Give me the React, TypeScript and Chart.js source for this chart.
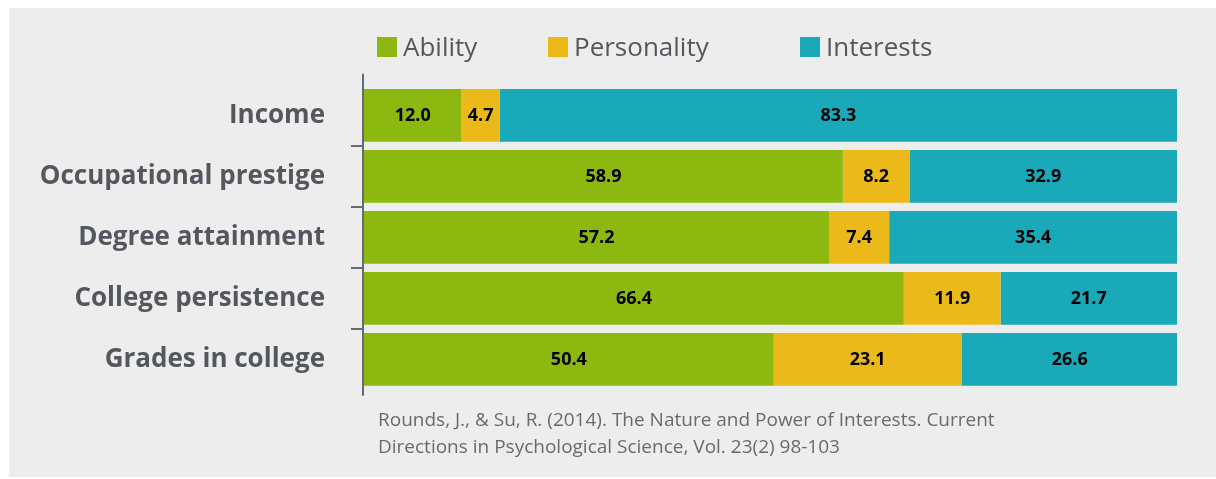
import React, { useEffect, useRef } from "react";
import { Chart, registerables } from "chart.js";

Chart.register(...registerables);

const categories = ["Income", "Occupational prestige", "Degree attainment", "College persistence", "Grades in college"];
const seriesNames = ["Ability", "Personality", "Interests"];
const ability = [12.0, 58.9, 57.2, 66.4, 50.4];
const personality = [4.7, 8.2, 7.4, 11.9, 23.1];
const interests = [83.3, 32.9, 35.4, 21.7, 26.6];
const colors = ["#8db80f", "#ebb91a", "#1aa9b9"];
const sourceLines = [
  "Rounds, J., & Su, R. (2014). The Nature and Power of Interests. Current",
  "Directions in Psychological Science, Vol. 23(2) 98-103",
];

const FONT = "'Open Sans', 'Noto Sans', sans-serif";
const LABEL_COLOR = "#54585e";
const AXIS_COLOR = "#676b71";

const PANEL_W = 1207;
const PANEL_H = 469;

const legendLeft = [368, 539, 791];

export default function App() {
  const canvasRef = useRef<HTMLCanvasElement | null>(null);

  useEffect(() => {
    const canvas = canvasRef.current;
    if (!canvas) return;

    const axisLinePlugin = {
      id: "axisLine",
      afterDraw(chart: any) {
        const { ctx, chartArea } = chart;
        ctx.save();
        ctx.strokeStyle = AXIS_COLOR;
        ctx.lineWidth = 2;
        ctx.beginPath();
        ctx.moveTo(chartArea.left - 1, chartArea.top - 11);
        ctx.lineTo(chartArea.left - 1, chartArea.bottom + 6);
        ctx.stroke();
        ctx.restore();
      },
    };

    const valueLabelPlugin = {
      id: "valueLabels",
      afterDatasetsDraw(chart: any) {
        const { ctx } = chart;
        ctx.save();
        ctx.font = `bold 18px ${FONT}`;
        ctx.fillStyle = "#000";
        ctx.textAlign = "center";
        ctx.textBaseline = "middle";
        chart.data.datasets.forEach((ds: any, i: number) => {
          const meta = chart.getDatasetMeta(i);
          meta.data.forEach((bar: any, j: number) => {
            const p = bar.getProps(["x", "y", "base"], true);
            const v = ds.data[j] as number;
            ctx.fillText(v.toFixed(1), (p.x + p.base) / 2, p.y + 1);
          });
        });
        ctx.restore();
      },
    };

    const chart = new Chart(canvas, {
      type: "bar",
      data: {
        labels: categories,
        datasets: [ability, personality, interests].map((d, i) => ({
          label: seriesNames[i],
          data: d,
          backgroundColor: colors[i],
          borderWidth: 0,
          barPercentage: 0.864,
          categoryPercentage: 1,
        })),
      },
      options: {
        indexAxis: "y",
        animation: false,
        responsive: true,
        maintainAspectRatio: false,
        layout: { padding: { top: 76.8, bottom: 87.2, right: 39, left: 0 } },
        plugins: {
          legend: { display: false },
          tooltip: { enabled: false },
        },
        scales: {
          x: { stacked: true, min: 0, max: 100, display: false },
          y: {
            stacked: true,
            afterFit(scale: any) {
              scale.width = 355;
            },
            border: { display: false },
            grid: {
              display: true,
              offset: true,
              drawOnChartArea: false,
              drawTicks: true,
              tickLength: 13,
              lineWidth: 2,
              color: (ctx: any) =>
                ctx.index === undefined || ctx.index === 0 || ctx.type !== "tick" ? "rgba(0,0,0,0)" : AXIS_COLOR,
            },
            ticks: {
              padding: 26,
              color: LABEL_COLOR,
              font: { family: FONT, size: 26, weight: "bold" },
            },
          },
        },
      },
      plugins: [axisLinePlugin, valueLabelPlugin],
    } as any);

    return () => chart.destroy();
  }, []);

  return (
    <div
      style={{
        position: "absolute",
        left: 9,
        top: 8,
        width: PANEL_W,
        height: PANEL_H,
        background: "#ededed",
        fontFamily: FONT,
      }}
    >
      <div style={{ position: "absolute", left: 0, top: 0, width: PANEL_W, height: PANEL_H }}>
        <canvas ref={canvasRef} />
      </div>
      {seriesNames.map((name, i) => (
        <div
          key={name}
          style={{
            position: "absolute",
            left: legendLeft[i],
            top: 29,
            height: 20,
            display: "flex",
            alignItems: "center",
            whiteSpace: "nowrap",
          }}
        >
          <span style={{ display: "inline-block", width: 20, height: 20, background: colors[i], marginRight: 6 }} />
          <span style={{ fontSize: 26, lineHeight: "20px", color: LABEL_COLOR, position: "relative", top: -1 }}>{name}</span>
        </div>
      ))}
      <div
        style={{
          position: "absolute",
          left: 369,
          top: 398,
          fontSize: 19,
          lineHeight: "27px",
          color: "#676b70",
        }}
      >
        {sourceLines.map((l) => (
          <div key={l}>{l}</div>
        ))}
      </div>
    </div>
  );
}
